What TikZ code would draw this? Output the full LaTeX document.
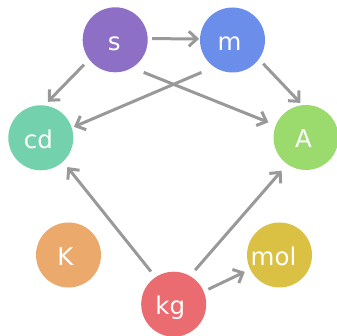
\documentclass[tikz,border=0pt]{standalone}
\usepackage{fontspec}
\setmainfont{DejaVu Sans}
\usetikzlibrary{arrows.meta}
\definecolor{cs}{HTML}{8E6FC6}
\definecolor{cm}{HTML}{6C8EEB}
\definecolor{ccd}{HTML}{74D1AE}
\definecolor{cA}{HTML}{9BDB6E}
\definecolor{cK}{HTML}{EBAA6C}
\definecolor{cmol}{HTML}{DAC143}
\definecolor{ckg}{HTML}{EB6C70}
\definecolor{edgec}{HTML}{999999}
\begin{document}
\begin{tikzpicture}[x=1pt,y=-1pt,
  unit/.style={circle,minimum size=65pt,inner sep=0pt,outer sep=0pt,fill=#1,text=white,
    text height=21pt,text depth=0pt,font=\fontsize{24.5}{24.5}\selectfont},
  link/.style={draw=edgec,line width=3pt,-{Straight Barb[length=8pt,width=15pt]}}]
\useasboundingbox (0,0) rectangle (337,336);
\node[unit=cs] (s) at (115.2,39.8) {\hspace*{-2pt}s};
\node[unit=cm] (m) at (232.5,40) {\hspace*{-6pt}m};
\node[unit=ccd] (cd) at (40.8,137.8) {\hspace*{-5pt}cd};
\node[unit=cA] (A) at (306,137.5) {\hspace*{-5pt}A};
\node[unit=cK] (K) at (68.5,255) {\hspace*{-6pt}K};
\node[unit=cmol] (mol) at (279.5,255) {\hspace*{-12pt}mol};
\node[unit=ckg] (kg) at (173.7,304.2) {\hspace*{-7pt}kg};
\draw[link,shorten <=4.5pt,shorten >=1pt] (s.2) -- (m.178);
\draw[link,shorten <=7.4pt,shorten >=5.1pt] (s.217) -- (cd.84);
\draw[link,shorten <=12.7pt,shorten >=8pt] (s.-59.5) -- (A.158.7);
\draw[link,shorten <=14pt,shorten >=2.4pt] (m.236) -- (cd.18.7);
\draw[link,shorten <=6.4pt,shorten >=3.1pt] (m.-36.6) -- (A.96.9);
\draw[link,shorten <=7.3pt,shorten >=7pt] (kg.124.5) -- (cd.-47.6);
\draw[link,shorten <=7.9pt,shorten >=8.7pt] (kg.60.3) -- (A.235.1);
\draw[link,shorten <=5.2pt,shorten >=6.1pt] (kg.23) -- (mol.206.9);
\end{tikzpicture}
\end{document}
